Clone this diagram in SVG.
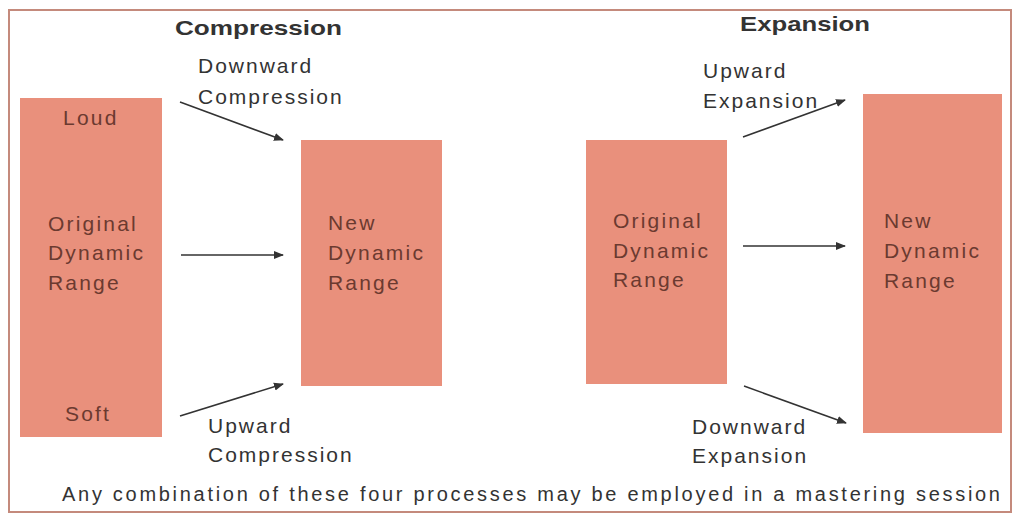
<svg xmlns="http://www.w3.org/2000/svg" width="1014" height="515" viewBox="0 0 1014 515">
<style>
.box{fill:#e9907c}
.in{font-family:"Liberation Sans",Arial,sans-serif;font-size:21px;letter-spacing:2.2px;fill:#6b3a30}
.out{font-family:"Liberation Sans",Arial,sans-serif;font-size:21px;letter-spacing:2px;fill:#333}
.foot{font-family:"Liberation Sans",Arial,sans-serif;font-size:20px;fill:#333}
.title{font-family:"Liberation Sans",Arial,sans-serif;font-size:21px;font-weight:bold;fill:#333}
.arr{stroke:#333;stroke-width:1.6;fill:none;marker-end:url(#ah)}
</style>
<defs>
<marker id="ah" viewBox="0 0 10 10" refX="9" refY="5" markerWidth="10" markerHeight="10" orient="auto" markerUnits="userSpaceOnUse">
<path d="M0,1 L10,5 L0,9 z" fill="#333"/>
</marker>
</defs>
<rect x="0" y="0" width="1014" height="515" fill="#fff"/>
<rect x="9" y="10" width="1002" height="502" fill="none" stroke="#c48a7c" stroke-width="2"/>
<text class="title" x="175" y="35" textLength="167" lengthAdjust="spacingAndGlyphs">Compression</text>
<text class="title" x="740" y="31" textLength="130" lengthAdjust="spacingAndGlyphs">Expansion</text>
<g id="orig-left">
<rect class="box" x="20" y="98" width="142" height="339"/>
<text class="in" x="63" y="125">Loud</text>
<text class="in" x="48" y="231">Original</text>
<text class="in" x="48" y="260">Dynamic</text>
<text class="in" x="48" y="290">Range</text>
<text class="in" x="65" y="421">Soft</text>
</g>
<g id="new-left">
<rect class="box" x="301" y="140" width="141" height="246"/>
<text class="in" x="328" y="230">New</text>
<text class="in" x="328" y="260">Dynamic</text>
<text class="in" x="328" y="290">Range</text>
</g>
<g id="orig-right">
<rect class="box" x="586" y="140" width="141" height="244"/>
<text class="in" x="613" y="228">Original</text>
<text class="in" x="613" y="258">Dynamic</text>
<text class="in" x="613" y="287">Range</text>
</g>
<g id="new-right">
<rect class="box" x="863" y="94" width="139" height="339"/>
<text class="in" x="884" y="228">New</text>
<text class="in" x="884" y="258">Dynamic</text>
<text class="in" x="884" y="288">Range</text>
</g>
<g id="connectors">
<line class="arr" x1="180" y1="102" x2="283" y2="140"/>
<line class="arr" x1="181" y1="255" x2="283" y2="255"/>
<line class="arr" x1="180" y1="416" x2="283" y2="384"/>
<line class="arr" x1="743" y1="137" x2="845" y2="100"/>
<line class="arr" x1="743" y1="246" x2="845" y2="246"/>
<line class="arr" x1="744" y1="386" x2="846" y2="423"/>
</g>
<g id="labels">
<text class="out" x="198" y="73">Downward</text>
<text class="out" x="198" y="104">Compression</text>
<text class="out" x="208" y="433">Upward</text>
<text class="out" x="208" y="462">Compression</text>
<text class="out" x="703" y="78">Upward</text>
<text class="out" x="703" y="108">Expansion</text>
<text class="out" x="692" y="434">Downward</text>
<text class="out" x="692" y="463">Expansion</text>
<text class="foot" x="62" y="501" textLength="938" lengthAdjust="spacing">Any combination of these four processes may be employed in a mastering session</text>
</g>
</svg>
